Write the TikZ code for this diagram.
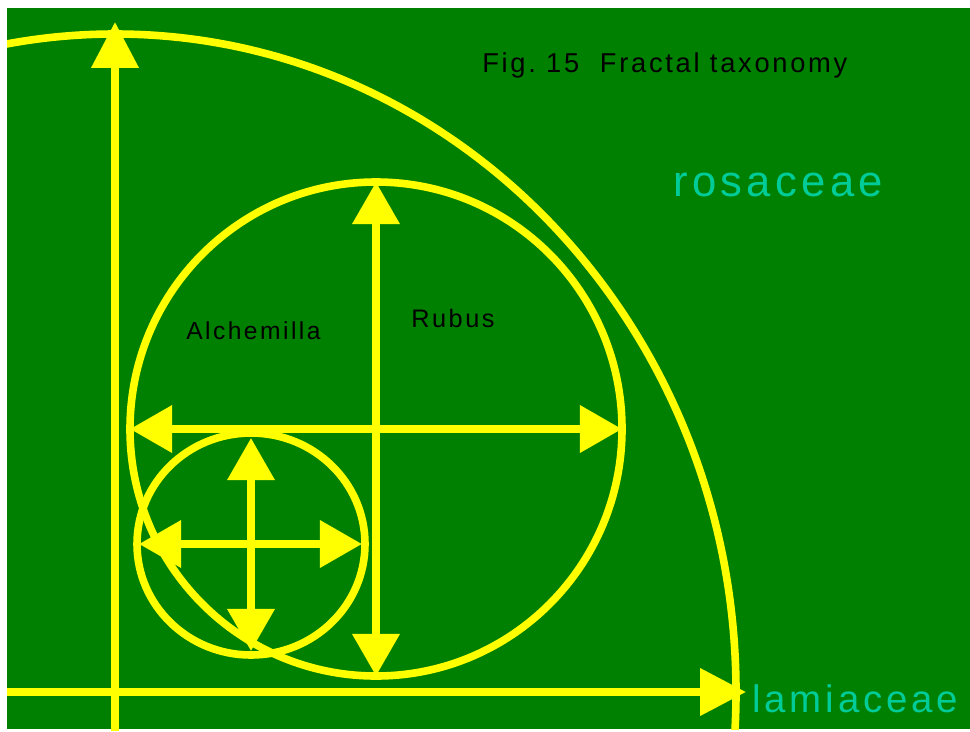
\documentclass[tikz,border=0pt]{standalone}
\usepackage{fontspec}
\setmainfont{Liberation Sans}
\newfontfamily\spaced[LetterSpace=10]{Liberation Sans}
\usepackage{xcolor}
\usetikzlibrary{arrows.meta}
\definecolor{leafgreen}{RGB}{0,128,0}
\definecolor{branchyellow}{RGB}{255,255,0}
\definecolor{familyteal}{RGB}{0,204,153}
\tikzset{
    ring/.style={branchyellow, line width=5.4pt},
    axis/.style={ring, -{Triangle[length=32.7pt, width=32.7pt]}},
    span/.style={ring, {Triangle[length=30pt, width=32.7pt]}-{Triangle[length=30pt, width=32.7pt]}},
    taxon/.style={inner sep=0pt, anchor=base west}
}

\begin{document}
\begin{tikzpicture}[x=0.025cm, y=-0.025cm]
    % Frame
    \useasboundingbox (0,0) rectangle (970,731);
    \fill[white] (0,0) rectangle (970,731);
    \fill[leafgreen] (7,8) rectangle (970,729);

    % Points
    \coordinate (origin) at (115,692);
    \coordinate (yfoot) at (115,731);
    \coordinate (ytip) at (115,22);
    \coordinate (xfoot) at (7,692);
    \coordinate (xtip) at (746,692);
    \coordinate (rubus c) at (376,429);
    \coordinate (alch c) at (251,544);

    % Family boundary
    \begin{scope}
        \clip (7,8) rectangle (970,729);
        \draw[ring] (origin) ellipse [x radius=621, y radius=658];
    \end{scope}

    % Axes
    \draw[axis] (yfoot) -- (ytip);
    \draw[axis] (xfoot) -- (xtip);

    % Genus circles
    \draw[ring] (rubus c) ellipse [x radius=246, y radius=247];
    \draw[ring] (alch c) ellipse [x radius=114, y radius=111];

    % Spans
    \coordinate (rubus w) at (130,429);
    \coordinate (rubus e) at (622,429);
    \coordinate (rubus n) at (376,182);
    \coordinate (rubus s) at (376,676);
    \draw[span] (rubus w) -- (rubus e);
    \draw[span] (rubus n) -- (rubus s);
    \coordinate (alch w) at (139,544);
    \coordinate (alch e) at (362,544);
    \coordinate (alch n) at (251,438);
    \coordinate (alch s) at (251,651);
    \draw[span] (alch w) -- (alch e);
    \draw[span] (alch n) -- (alch s);

    % Labels
    \node[taxon, font=\spaced\fontsize{19.4}{23}\selectfont] (title) at (482,72) {Fig.\ 15\ \ Fractal taxonomy};
    \node[taxon, familyteal, font=\spaced\fontsize{31}{36}\selectfont] (rosaceae) at (673,196) {rosaceae};
    \node[taxon, familyteal, font=\spaced\fontsize{27.3}{32}\selectfont] (lamiaceae) at (752,712) {lamiaceae};
    \node[taxon, font=\spaced\fontsize{17.5}{21}\selectfont] (alchemilla) at (186,339) {Alchemilla};
    \node[taxon, font=\spaced\fontsize{18}{22}\selectfont] (rubus) at (411,327) {Rubus};
\end{tikzpicture}
\end{document}
